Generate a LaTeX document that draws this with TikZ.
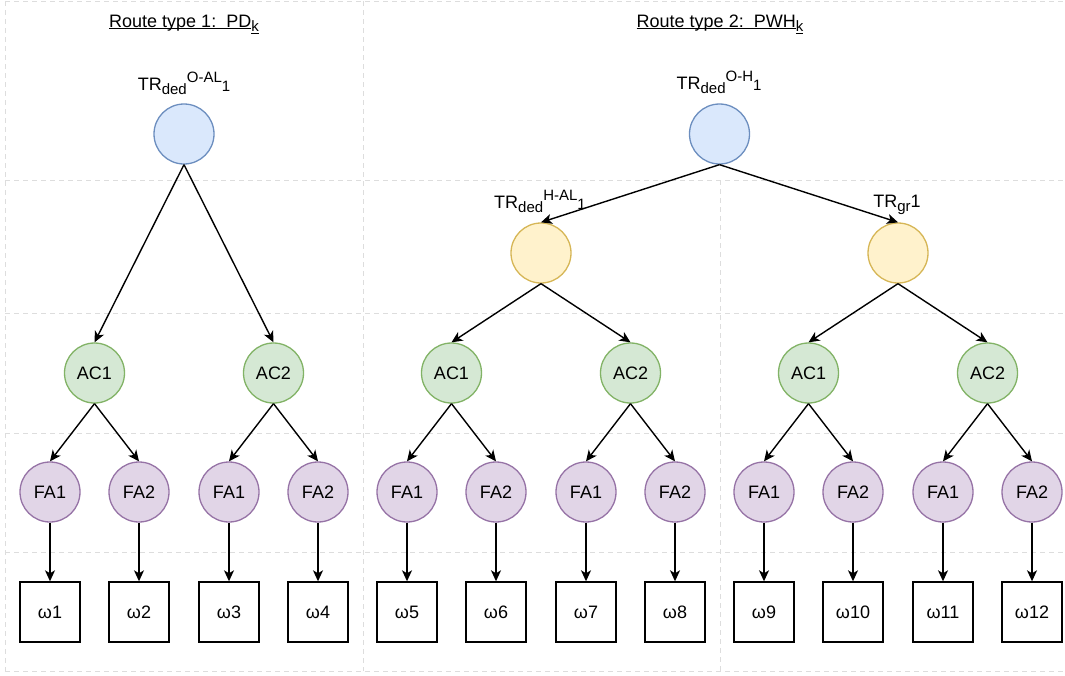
\documentclass[tikz,border=0pt]{standalone}
\usepackage{fontspec}
\setmainfont{Liberation Sans}
\usetikzlibrary{arrows.meta}
\definecolor{bluef}{HTML}{DAE8FC}\definecolor{blued}{HTML}{6C8EBF}
\definecolor{yelf}{HTML}{FFF2CC}\definecolor{yeld}{HTML}{D6B656}
\definecolor{grnf}{HTML}{D5E8D4}\definecolor{grnd}{HTML}{82B366}
\definecolor{purf}{HTML}{E1D5E7}\definecolor{purd}{HTML}{9673A6}
\definecolor{gridc}{HTML}{DDDDDD}
\newcommand\lsub[1]{\raisebox{-4.5pt}{\fontsize{15}{15}\selectfont #1}}
\newcommand\lsup[1]{\raisebox{8pt}{\fontsize{15}{15}\selectfont #1}}
\newcommand\lone[1]{\raisebox{-1.5pt}{\fontsize{15}{15}\selectfont #1}}
\tikzset{
  basefont/.style={font=\fontsize{18}{21}\selectfont, text=black},
  circ/.style={circle, minimum size=60pt, inner sep=0pt, line width=1.3pt, basefont},
  bluec/.style={circ, draw=blued, fill=bluef},
  yelc/.style={circ, draw=yeld, fill=yelf},
  grnc/.style={circ, draw=grnd, fill=grnf},
  purc/.style={circ, draw=purd, fill=purf},
  omegabox/.style={rectangle, draw=black, fill=white, line width=1.4pt, minimum size=60pt, inner sep=0pt, basefont},
  lab/.style={basefont, anchor=base, inner sep=0pt},
  conn/.style={line width=1.4pt, -{Stealth[length=11pt,width=10pt,inset=3pt]}},
  gridl/.style={draw=gridc, line width=1pt, dash pattern=on 5pt off 4pt},
}
\begin{document}
\begin{tikzpicture}[x=1pt,y=-1pt]
\useasboundingbox (0,0) rectangle (1065,675);
% grid
\draw[gridl] (5,1) -- (1065,1);
\draw[gridl] (5,1) -- (5,671);
\draw[gridl] (5,671) -- (1065,671);
\draw[gridl] (363,1) -- (363,671);
\draw[gridl] (720,180) -- (720,671);
\draw[gridl] (5,180) -- (1065,180);
\draw[gridl] (5,313) -- (1065,313);
\draw[gridl] (5,433) -- (1065,433);
\draw[gridl] (5,552) -- (1065,552);
% titles
\node[lab] (t1) at (184,27) {\underline{\smash{Route type 1:\ \ PD}}\lsub{\underline{\smash{k}}}};
\node[lab] (t2) at (720,27) {\underline{\smash{Route type 2:\ \ PWH}}\lsub{\underline{\smash{k}}}};
% route 1
\node[bluec] (r1) at (184,134) {};
\node[lab] (r1l) at (184,90) {TR\lsub{ded}\lsup{O-AL}\lone{1}};
\node[grnc] (a1) at (94.5,373) {AC1};
\node[grnc] (a2) at (273.5,373) {AC2};
\node[purc] (f1) at (50,492) {FA1};
\node[purc] (f2) at (139,492) {FA2};
\node[purc] (f3) at (229,492) {FA1};
\node[purc] (f4) at (318,492) {FA2};
\node[omegabox] (w1) at (50,612) {ω1};
\node[omegabox] (w2) at (139,612) {ω2};
\node[omegabox] (w3) at (229,612) {ω3};
\node[omegabox] (w4) at (318,612) {ω4};
% route 2
\node[bluec] (r2) at (719.5,134) {};
\node[lab] (r2l) at (719,89) {TR\lsub{ded}\lsup{O-H}\lone{1}};
\node[yelc] (y1) at (541,253) {};
\node[lab] (y1l) at (540,208) {TR\lsub{ded}\lsup{H-AL}\lone{1}};
\node[yelc] (y2) at (898,253) {};
\node[lab] (y2l) at (897,207) {TR\lsub{gr}1};
\node[grnc] (a3) at (451.5,373) {AC1};
\node[grnc] (a4) at (630.5,373) {AC2};
\node[grnc] (a5) at (808.5,373) {AC1};
\node[grnc] (a6) at (987.5,373) {AC2};
\node[purc] (f5) at (407,492) {FA1};
\node[purc] (f6) at (496,492) {FA2};
\node[purc] (f7) at (586,492) {FA1};
\node[purc] (f8) at (675,492) {FA2};
\node[purc] (f9) at (764,492) {FA1};
\node[purc] (f10) at (853,492) {FA2};
\node[purc] (f11) at (943,492) {FA1};
\node[purc] (f12) at (1032,492) {FA2};
\node[omegabox] (w5) at (407,612) {ω5};
\node[omegabox] (w6) at (496,612) {ω6};
\node[omegabox] (w7) at (586,612) {ω7};
\node[omegabox] (w8) at (675,612) {ω8};
\node[omegabox] (w9) at (764,612) {ω9};
\node[omegabox] (w10) at (853,612) {ω10};
\node[omegabox] (w11) at (943,612) {ω11};
\node[omegabox] (w12) at (1032,612) {ω12};
% connectors
\draw[conn] (r1.south) -- (a1.north);
\draw[conn] (r1.south) -- (a2.north);
\draw[conn] (a1.south) -- (f1.north);
\draw[conn] (a1.south) -- (f2.north);
\draw[conn] (a2.south) -- (f3.north);
\draw[conn] (a2.south) -- (f4.north);
\draw[conn] (r2.south) -- (y1.north);
\draw[conn] (r2.south) -- (y2.north);
\draw[conn] (y1.south) -- (a3.north);
\draw[conn] (y1.south) -- (a4.north);
\draw[conn] (y2.south) -- (a5.north);
\draw[conn] (y2.south) -- (a6.north);
\draw[conn] (a3.south) -- (f5.north);
\draw[conn] (a3.south) -- (f6.north);
\draw[conn] (a4.south) -- (f7.north);
\draw[conn] (a4.south) -- (f8.north);
\draw[conn] (a5.south) -- (f9.north);
\draw[conn] (a5.south) -- (f10.north);
\draw[conn] (a6.south) -- (f11.north);
\draw[conn] (a6.south) -- (f12.north);
\foreach \i in {1,...,12} {\draw[conn] (f\i.south) -- (w\i.north);}
\end{tikzpicture}
\end{document}
